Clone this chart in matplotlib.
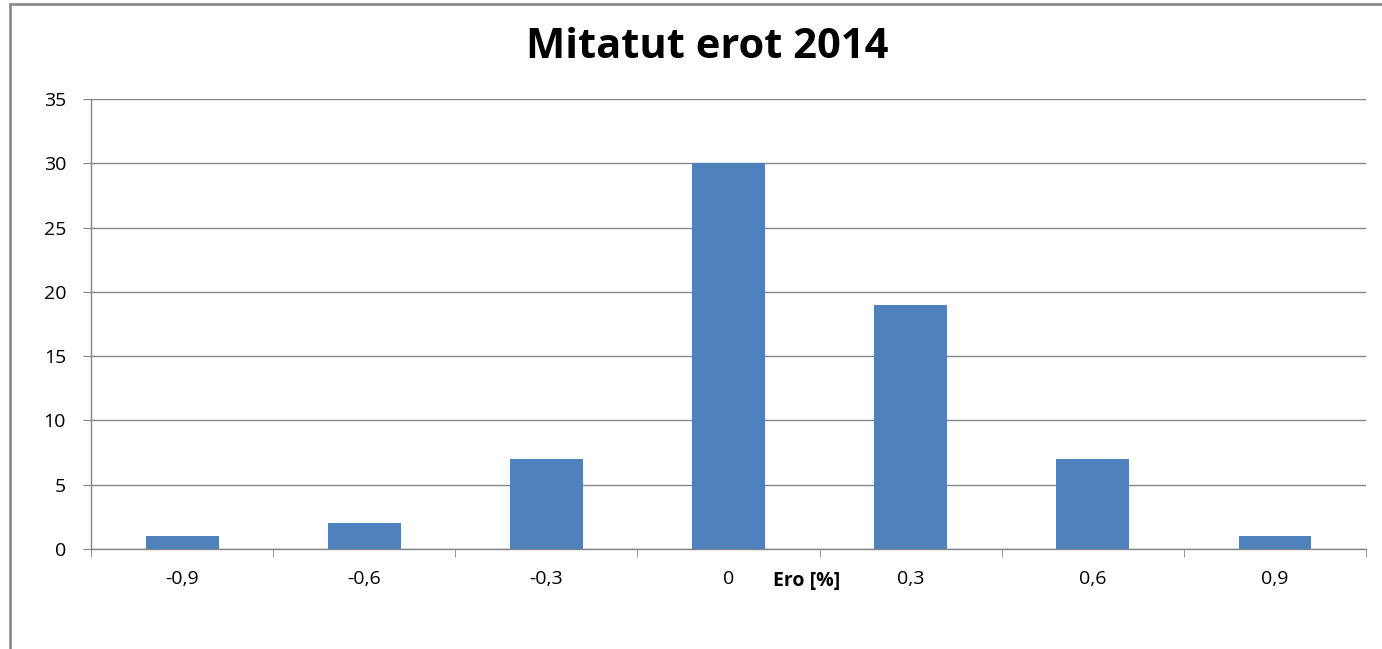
import matplotlib
matplotlib.use("Agg")
import matplotlib.pyplot as plt
from matplotlib.patches import Rectangle

# data
categories = ["-0,9", "-0,6", "-0,3", "0", "0,3", "0,6", "0,9"]
counts = [1, 2, 7, 30, 19, 7, 1]
y_ticks = [0, 5, 10, 15, 20, 25, 30, 35]

plt.rcParams['font.family'] = ['Open Sans', 'DejaVu Sans']

fig = plt.figure(figsize=(13.82, 6.49), dpi=100)
ax = fig.add_axes([91/1382, 1 - 549/649, (1366 - 91)/1382, (549 - 99)/649])

# outer chart border
fig.patches.append(Rectangle((10/1382, -0.1), 1.2, 1.1 - 4/649,
                             transform=fig.transFigure, fill=False,
                             edgecolor="#8c8c8c", linewidth=2.0))

x = list(range(len(categories)))
ax.bar(x, counts, width=0.4, color="#4f81bd", zorder=3)

ax.set_xlim(-0.5, len(categories) - 0.5)
ax.set_ylim(0, 35)
ax.set_yticks(y_ticks)
ax.set_yticklabels([str(v) for v in y_ticks], fontsize=14)
ax.set_xticks(x)
ax.set_xticklabels(categories, fontsize=14)
ax.tick_params(axis='x', length=0, pad=15)
ax.tick_params(axis='y', length=6, color="#868686", pad=12)
# category boundary ticks
ax.set_xticks([i - 0.5 for i in range(len(categories) + 1)], minor=True)
ax.tick_params(axis='x', which='minor', length=6, color="#868686", direction='out')

ax.grid(axis='y', color="#868686", linewidth=1.0, zorder=0)
for s in ["top", "right"]:
    ax.spines[s].set_visible(False)
for s in ["left", "bottom"]:
    ax.spines[s].set_color("#868686")
    ax.spines[s].set_linewidth(1.0)

ax.text(0.561, -0.07, "Ero [%]", transform=ax.transAxes, ha="center", va="center",
        fontsize=14, fontweight="bold")
fig.text(0.512, 1 - 47/649, "Mitatut erot 2014", ha="center", va="center",
         fontsize=30, fontweight="bold")

fig.savefig("out.png", dpi=100)
